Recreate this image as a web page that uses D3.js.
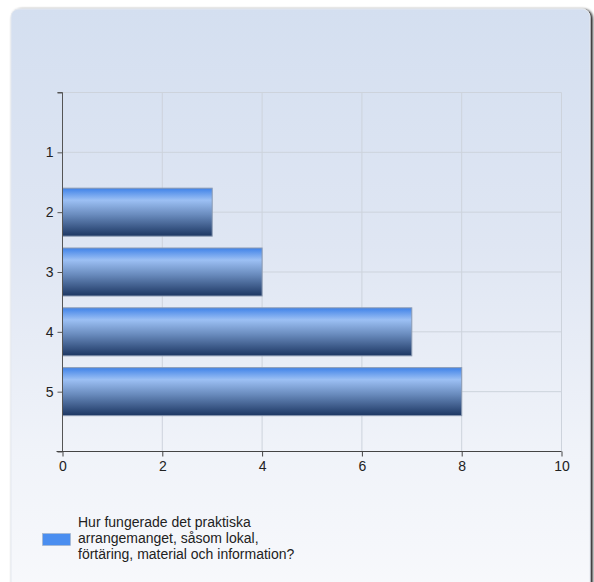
<!DOCTYPE html>
<html>
<head>
<meta charset="utf-8">
<script src="https://cdn.jsdelivr.net/npm/d3@7"></script>
<style>
html,body{margin:0;padding:0;background:#fff;}
svg{display:block;}
text{font-family:Arial,"Liberation Sans",sans-serif;}
</style>
</head>
<body>
<svg id="chart" width="594" height="582"></svg>
<script>
const categories = ["1", "2", "3", "4", "5"];
const values = [0, 3, 4, 7, 8];
const xTicks = [0, 2, 4, 6, 8, 10];
const seriesName = ["Hur fungerade det praktiska", "arrangemanget, såsom lokal,", "förtäring, material och information?"];

(function(){
const svg = d3.select("#chart");
const defs = svg.append("defs");

const bg = defs.append("linearGradient").attr("id","bg").attr("x1",0).attr("y1",0).attr("x2",0).attr("y2",1);
bg.append("stop").attr("offset","0%").attr("stop-color","#d4dff0");
bg.append("stop").attr("offset","40%").attr("stop-color","#dfe6f3");
bg.append("stop").attr("offset","75%").attr("stop-color","#f0f3f9");
bg.append("stop").attr("offset","100%").attr("stop-color","#f8f9fc");

const bar = defs.append("linearGradient").attr("id","bar").attr("x1",0).attr("y1",0).attr("x2",0).attr("y2",1);
bar.append("stop").attr("offset","0%").attr("stop-color","#3f82e8");
bar.append("stop").attr("offset","25%").attr("stop-color","#9cc0f4");
bar.append("stop").attr("offset","55%").attr("stop-color","#6a8cbe");
bar.append("stop").attr("offset","100%").attr("stop-color","#1c3662");

const shadow = defs.append("filter").attr("id","sh").attr("x","-5%").attr("y","-5%").attr("width","110%").attr("height","110%");
shadow.append("feGaussianBlur").attr("in","SourceAlpha").attr("stdDeviation",1.5);
shadow.append("feOffset").attr("dx",2).attr("dy",1).attr("result","b");
const fm = shadow.append("feMerge");
fm.append("feMergeNode").attr("in","b");
fm.append("feMergeNode").attr("in","SourceGraphic");

svg.append("rect").attr("x",11).attr("y",9).attr("width",579).attr("height",590)
  .attr("rx",8).attr("fill","url(#bg)").attr("stroke","#e4e8ef").attr("stroke-width",1)
  .attr("filter","url(#sh)");

const pl = 62.5, pr = 561.5, pt = 92.5, pb = 451.5;
const x = d3.scaleLinear().domain([0,10]).range([pl,pr]);
const y = d3.scaleLinear().domain([0,6]).range([pt,pb]);

const g = svg.append("g");
g.selectAll(".vg").data(xTicks.filter(d=>d>0)).join("line")
  .attr("x1",d=>x(d)).attr("x2",d=>x(d)).attr("y1",pt).attr("y2",pb)
  .attr("stroke","#cdd3dc").attr("stroke-width",1);
g.selectAll(".hg").data([0,1,2,3,4,5]).join("line")
  .attr("x1",pl).attr("x2",pr).attr("y1",d=>y(d)).attr("y2",d=>y(d))
  .attr("stroke","#cdd3dc").attr("stroke-width",1);

const bh = 48;
g.selectAll(".bar").data(values).join("rect")
  .attr("x",x(0)).attr("y",(d,i)=>y(i+1)-bh/2)
  .attr("width",d=>Math.max(0,x(d)-x(0))).attr("height",bh)
  .attr("fill","url(#bar)").attr("stroke","#8b9ab2").attr("stroke-width",1)
  .style("display",d=>d>0?null:"none");

const yAxis = d3.axisLeft(y).tickValues([0,1,2,3,4,5,6])
  .tickFormat(d => (d>=1 && d<=5) ? categories[d-1] : "").tickSize(5).tickPadding(4);
const ya = svg.append("g").attr("transform",`translate(${pl},0)`).call(yAxis);
ya.select(".domain").attr("stroke","#555").attr("d",`M-5,${pt}H0V${pb}`);
ya.selectAll(".tick line").attr("stroke","#555");
ya.selectAll(".tick text").attr("fill","#222").style("font-size","14px");

const xAxis = d3.axisBottom(x).tickValues(xTicks).tickSize(5).tickPadding(5);
const xa = svg.append("g").attr("transform",`translate(0,${pb})`).call(xAxis);
xa.select(".domain").attr("stroke","#444").attr("d",`M${pl-6},0H${pr}`);
xa.selectAll(".tick line").attr("stroke","#444");
xa.selectAll(".tick text").attr("fill","#222").style("font-size","14px");

svg.append("rect").attr("x",42.5).attr("y",533.5).attr("width",28).attr("height",12)
  .attr("fill","#4a8ef0").attr("stroke","#aab4c4").attr("stroke-width",0.6);
const lt = svg.append("text").attr("x",78).attr("y",527).attr("fill","#222").style("font-size","14px");
seriesName.forEach((s,i)=>lt.append("tspan").attr("x",78).attr("dy",i===0?0:16).text(s));
})();
</script>
</body>
</html>
